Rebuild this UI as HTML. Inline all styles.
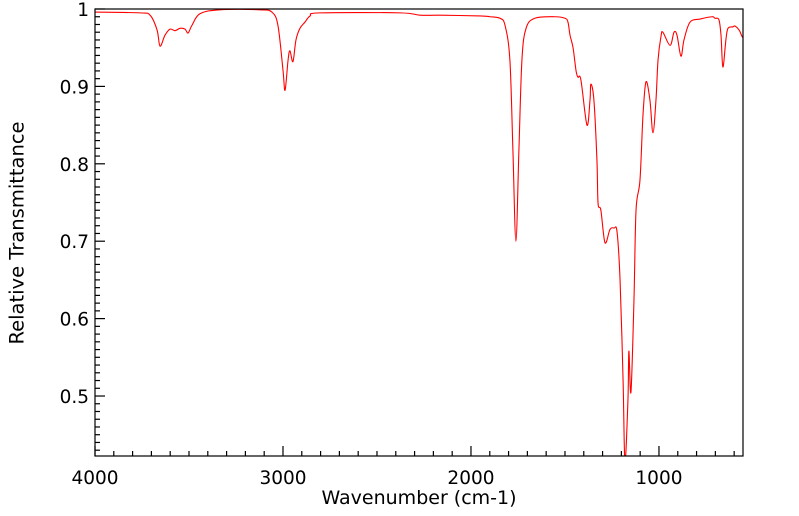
<!DOCTYPE html>
<html><head><meta charset="utf-8"><style>
body{margin:0;background:#fff;}
svg{display:block;font-family:"DejaVu Sans","Liberation Sans",sans-serif;}
</style></head><body>
<svg id="chart" width="799" height="516" viewBox="0 0 799 516">
<defs><clipPath id="clip"><rect x="95" y="9" width="648" height="447"/></clipPath></defs>
<g id="ticks"></g>
<path id="line" fill="none" stroke="#ff0000" stroke-width="1.1" clip-path="url(#clip)"/>
<rect x="95" y="9" width="648" height="447" fill="none" stroke="#000" stroke-width="1.2"/>
<text x="18" y="233" transform="rotate(-90 18 233)" text-anchor="middle" font-size="19.5" dominant-baseline="middle">Relative Transmittance</text>
<text x="419" y="504" text-anchor="middle" font-size="19">Wavenumber (cm-1)</text>
</svg>
<script>
const wavenumbers=[4000,3761,3707,3670,3654,3628,3601,3574,3548,3521,3505,3484,3441,3335,3122,3059,3027,3000,2989,2973,2963,2947,2931,2910,2883,2856,2803,2378,2271,2165,1952,1899,1846,1819,1793,1777,1761,1745,1729,1707,1660,1553,1500,1484,1473,1457,1441,1431,1415,1383,1367,1362,1346,1330,1324,1309,1287,1261,1239,1223,1207,1191,1181,1165,1160,1149,1133,1122,1101,1085,1069,1048,1032,1016,1005,989,979,941,920,904,883,867,835,782,718,702,681,670,660,644,633,606,596,574,559,553];
const transmittance=[0.996,0.995,0.992,0.973,0.952,0.966,0.974,0.972,0.975,0.974,0.969,0.979,0.994,0.999,0.999,0.996,0.979,0.921,0.895,0.934,0.946,0.932,0.960,0.975,0.983,0.991,0.995,0.995,0.992,0.992,0.991,0.990,0.988,0.979,0.934,0.818,0.700,0.818,0.934,0.975,0.988,0.990,0.988,0.983,0.966,0.950,0.920,0.912,0.908,0.850,0.882,0.903,0.882,0.805,0.749,0.740,0.698,0.715,0.717,0.712,0.650,0.521,0.415,0.495,0.558,0.505,0.624,0.740,0.779,0.863,0.906,0.882,0.840,0.882,0.934,0.965,0.970,0.953,0.970,0.966,0.939,0.960,0.983,0.987,0.990,0.988,0.986,0.966,0.925,0.960,0.975,0.977,0.978,0.973,0.965,0.963];
const xTickLabels=[4000,3000,2000,1000];
const yTickLabels=[1,0.9,0.8,0.7,0.6,0.5];
const X0=95,X1=743,Y0=9,Y1=456,WMAX=4000,WMIN=553,VMAX=1,VMIN=0.4225;
const xs=w=>X0+(WMAX-w)/(WMAX-WMIN)*(X1-X0);
const ys=v=>Y0+(VMAX-v)/(VMAX-VMIN)*(Y1-Y0);
const NS="http://www.w3.org/2000/svg";
const g=document.getElementById('ticks');
function ln(x1,y1,x2,y2,name){const l=document.createElementNS(NS,'line');l.setAttribute('x1',x1);l.setAttribute('y1',y1);l.setAttribute('x2',x2);l.setAttribute('y2',y2);l.setAttribute('stroke','#000');l.setAttribute('stroke-width','1.2');


g.appendChild(l);}
function tx(x,y,s,anchor,name){const t=document.createElementNS(NS,'text');t.setAttribute('x',x);t.setAttribute('y',y);t.setAttribute('font-size','18.5');t.setAttribute('text-anchor',anchor);t.textContent=s;


g.appendChild(t);}
for(let w=4000;w>WMIN;w-=100){const x=xs(w);const major=w%1000===0;ln(x,Y1,x,Y1-(major?10:5),major?'x-major-tick':'x-minor-tick');}
xTickLabels.forEach(w=>tx(xs(w),484,String(w),'middle','x-tick-label'));
for(let i=0;i*0.01<=VMAX-VMIN;i++){const v=VMAX-i*0.01;const y=ys(v);const major=i%10===0;ln(X0,y,X0+(major?10:5),y,major?'y-major-tick':'y-minor-tick');}
yTickLabels.forEach(v=>tx(89,ys(v)+7,String(v),'end','y-tick-label'));
const P=wavenumbers.map((w,i)=>[xs(w),ys(transmittance[i])]);
let d='M'+P[0][0].toFixed(2)+','+P[0][1].toFixed(2);
for(let i=0;i<P.length-1;i++){const p0=P[Math.max(0,i-1)],p1=P[i],p2=P[i+1],p3=P[Math.min(P.length-1,i+2)];
const c1=[p1[0]+(p2[0]-p0[0])/6,p1[1]+(p2[1]-p0[1])/6],c2=[p2[0]-(p3[0]-p1[0])/6,p2[1]-(p3[1]-p1[1])/6];
d+=' C'+c1.map(n=>n.toFixed(2))+' '+c2.map(n=>n.toFixed(2))+' '+p2.map(n=>n.toFixed(2));}
document.getElementById('line').setAttribute('d',d);
</script>
</body></html>
